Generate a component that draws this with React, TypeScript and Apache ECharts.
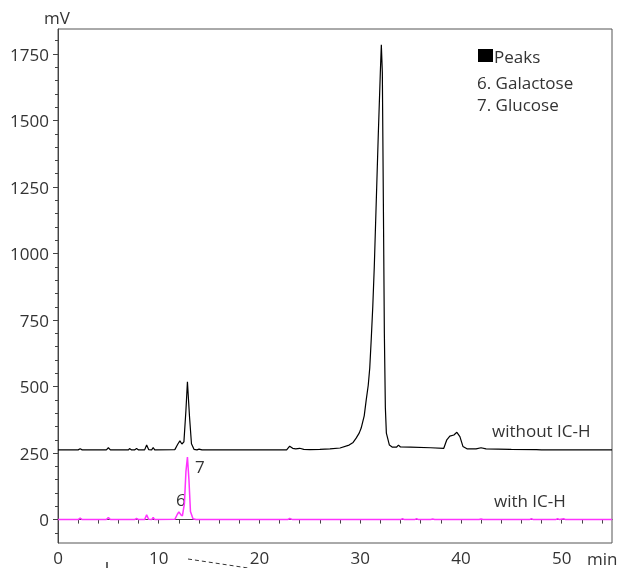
import React, { useEffect, useRef } from "react";
import * as echarts from "echarts";

// Chromatogram without IC-H (black, offset trace) : [time (min), signal (mV)]
const withoutICH: [number, number][] = [
  [0, 262], [2.0, 262], [2.2, 266], [2.4, 262], [4.8, 262], [5.0, 270], [5.2, 262],
  [7.0, 262], [7.1, 267], [7.3, 262], [7.6, 262], [7.8, 267], [8.0, 262],
  [8.6, 262], [8.8, 280], [9.0, 263], [9.3, 262], [9.45, 271], [9.6, 262],
  [11.6, 263], [11.9, 284], [12.1, 296], [12.3, 284], [12.5, 292], [12.7, 410],
  [12.85, 518], [13.05, 390], [13.25, 285], [13.5, 264], [13.8, 262], [14.0, 265],
  [14.3, 262], [22.7, 262], [23.0, 276], [23.3, 268], [23.6, 266], [24.0, 268],
  [24.4, 264], [25.0, 263], [26.0, 264], [27.0, 266], [28.0, 269], [28.9, 280],
  [29.3, 290], [29.6, 306], [29.9, 325], [30.1, 344], [30.4, 390], [30.6, 450],
  [30.8, 505], [30.95, 570], [31.1, 680], [31.25, 800], [31.4, 950],
  [31.6, 1200], [31.8, 1450], [32.0, 1680], [32.1, 1785], [32.2, 1680],
  [32.3, 1200], [32.4, 700], [32.5, 420], [32.6, 325], [32.9, 280], [33.2, 272],
  [33.6, 272], [33.8, 280], [34.0, 273], [35.0, 272], [37.0, 270], [38.3, 268],
  [38.6, 300], [38.9, 314], [39.3, 318], [39.6, 328], [39.9, 312], [40.2, 275],
  [40.6, 266], [41.5, 266], [42.0, 270], [42.5, 266], [45.0, 264], [47.5, 263],
  [48.0, 262], [55, 262],
];

// Chromatogram with IC-H (magenta)
const withICH: [number, number][] = [
  [0, 0], [2.0, 0], [2.2, 6], [2.4, 0], [4.8, 0], [5.0, 8], [5.2, 0],
  [7.6, 0], [7.8, 4], [8.0, 0], [8.6, 0], [8.8, 18], [9.0, 1], [9.3, 0],
  [9.45, 8], [9.6, 0], [11.6, 1], [11.85, 20], [12.0, 29], [12.2, 18],
  [12.35, 14], [12.55, 60], [12.7, 180], [12.85, 235], [13.0, 150],
  [13.15, 30], [13.4, 3], [13.7, 0], [22.8, 0], [23.0, 4], [23.3, 0],
  [34.0, 0], [34.2, 3], [34.4, 0], [35.4, 0], [35.6, 3], [35.8, 0],
  [37.0, 0], [37.2, 2], [37.4, 0], [41.8, 0], [42.0, 2], [42.2, 0],
  [46.8, 0], [47.0, 3], [47.2, 0], [49.4, 0], [49.6, 3], [49.8, 0],
  [50.2, 3], [50.4, 0], [55, 0],
];

const yLabelValues = [0, 250, 500, 750, 1000, 1250, 1500, 1750];
const yMinorValues = [-50, 50, 100, 150, 200, 300, 350, 400, 450, 550, 600, 650, 700, 800, 850, 900, 950, 1050, 1100, 1150, 1200, 1300, 1350, 1400, 1450, 1550, 1600, 1650, 1700, 1800];
const xLabelValues = [0, 10, 20, 30, 40, 50];
const xTickValues = [2, 4, 6, 8, 12, 14, 16, 18, 22, 24, 26, 28, 32, 34, 36, 38, 42, 44, 46, 48, 52, 54];

const legendTitle = "Peaks";
const legendItems = ["6. Galactose", "7. Glucose"];
const seriesNames = ["without IC-H", "with IC-H"];
const peakLabels = ["6", "7"];

const FONT = "'Open Sans', 'Noto Sans', sans-serif";
const TXT = "#333";
const FS = 17;

export default function App() {
  const ref = useRef<HTMLDivElement>(null);
  useEffect(() => {
    if (!ref.current) return;
    const chart = echarts.init(ref.current, undefined, { renderer: "svg" });
    const textStyle = (x: number, y: number, text: string, align = "left") => ({
      type: "text",
      x,
      y,
      style: {
        text,
        fill: TXT,
        font: `${FS}px ${FONT}`,
        textAlign: align,
        textVerticalAlign: "middle",
      },
    });
    chart.setOption({
      animation: false,
      textStyle: { fontFamily: FONT },
      grid: {
        left: 58,
        right: 10,
        top: 29,
        bottom: 25,
        show: true,
        borderColor: "#555",
        borderWidth: 1,
      },
      xAxis: [
        {
          type: "value",
          min: 0,
          max: 55,
          interval: 10,
          splitLine: { show: false },
          axisLine: { lineStyle: { color: "#444", width: 1 } },
          axisTick: {
            show: true,
            customValues: xLabelValues,
            length: 4,
            lineStyle: { color: "#444" },
          },
          axisLabel: {
            customValues: xLabelValues,
            color: TXT,
            fontSize: FS,
            fontFamily: FONT,
            margin: 6,
            interval: 0,
            hideOverlap: false,
            showMinLabel: true,
            showMaxLabel: true,
            formatter: (v: number) => String(Math.round(v)),
          },
        },
        {
          type: "value",
          position: "bottom",
          min: 0,
          max: 55,
          splitLine: { show: false },
          axisLine: { show: false },
          axisTick: {
            show: true,
            customValues: xTickValues,
            length: 4,
            lineStyle: { color: "#444" },
          },
          axisLabel: { show: false },
        },
      ],
      yAxis: [
        {
          type: "value",
          min: -88,
          max: 1844,
          splitLine: { show: false },
          axisLine: { show: true, lineStyle: { color: "#444", width: 1 } },
          axisTick: {
            show: true,
            customValues: yLabelValues,
            length: 5,
            lineStyle: { color: "#444" },
          },
          axisLabel: {
            customValues: yLabelValues,
            color: TXT,
            fontSize: FS,
            fontFamily: FONT,
            margin: 9,
            formatter: (v: number) => String(v),
          },
        },
        {
          type: "value",
          position: "left",
          min: -88,
          max: 1844,
          splitLine: { show: false },
          axisLine: { show: false },
          axisTick: {
            show: true,
            customValues: yMinorValues,
            length: 3,
            lineStyle: { color: "#444" },
          },
          axisLabel: { show: false },
        },
      ],
      series: [
        {
          name: seriesNames[0],
          type: "line",
          data: withoutICH,
          showSymbol: false,
          lineStyle: { color: "#000", width: 1.2 },
          z: 3,
        },
        {
          name: seriesNames[1],
          type: "line",
          data: withICH,
          showSymbol: false,
          lineStyle: { color: "#ff33ff", width: 1.5 },
          z: 2,
        },
      ],
      graphic: [
        textStyle(57, 17, "mV", "center"),
        textStyle(587, 558, "min"),
        { type: "rect", shape: { x: 478, y: 49, width: 15, height: 13 }, style: { fill: "#000" } },
        textStyle(494, 56, legendTitle),
        textStyle(477, 82, legendItems[0]),
        textStyle(477, 104, legendItems[1]),
        textStyle(492, 430, seriesNames[0]),
        textStyle(494, 500, seriesNames[1]),
        textStyle(176, 499, peakLabels[0]),
        textStyle(195, 466, peakLabels[1]),
        {
          type: "line",
          shape: { x1: 107, y1: 562, x2: 107, y2: 568 },
          style: { stroke: "#333", lineWidth: 1.5 },
        },
        {
          type: "line",
          shape: { x1: 188, y1: 559, x2: 248, y2: 568 },
          style: { stroke: "#333", lineWidth: 1, lineDash: [4, 3] },
        },
      ],
    });
    return () => chart.dispose();
  }, []);
  return (
    <div
      ref={ref}
      style={{ position: "fixed", left: 0, top: 0, width: 622, height: 568 }}
    />
  );
}
